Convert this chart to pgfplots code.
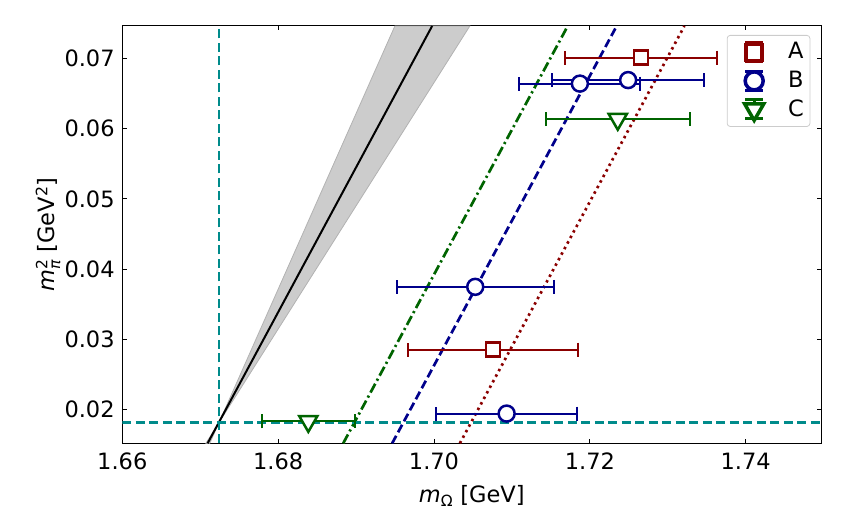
\documentclass[border=0pt]{standalone}
\usepackage{pgfplots}
\pgfplotsset{compat=1.18}
\usepackage{fontspec}
\setmainfont{DejaVu Sans}
\definecolor{dred}{RGB}{139,0,0}
\definecolor{dblue}{RGB}{0,0,139}
\definecolor{dgreen}{RGB}{0,100,0}
\definecolor{dcyan}{RGB}{0,139,139}
\newcommand{\bigf}{\fontsize{22.5}{27}\selectfont}
\newcommand{\smf}{\fontsize{15.5}{18}\selectfont}
\pgfplotsset{
  myleg/.style n args={3}{legend image code/.code={
    \path[draw=none, fill=none] (0pt,-12pt) rectangle (55pt,12pt);
    \draw[#1, solid, line width=3pt] (23pt,-9.5pt) -- (23pt,9.5pt) (14pt,-9.5pt) -- (32pt,-9.5pt) (14pt,9.5pt) -- (32pt,9.5pt);
    \draw[#1, solid, fill=white, line width=3.5pt, mark=#2, mark size=#3, only marks] plot coordinates {(23pt,0pt)};
  }},
}
\begin{document}
\bigf
\begin{tikzpicture}
\begin{axis}[
  scale only axis, width=699pt, height=417.3pt,
  xmin=1.66, xmax=1.7497, ymin=0.0152, ymax=0.0746,
  xtick={1.66,1.68,1.70,1.72,1.74},
  ytick={0.02,0.03,0.04,0.05,0.06,0.07},
  scaled ticks=false,
  /pgf/number format/fixed, /pgf/number format/fixed zerofill,
  /pgf/number format/precision=2, /pgf/number format/assume math mode=true,
  tick label style={font=\bigf, black},
  xticklabel style={yshift=-2pt},
  label style={font=\bigf},
  ylabel style={yshift=-11pt},
  tick align=inside, major tick length=4.5pt,
  tick style={black, line width=0.8pt},
  axis line style={line width=1pt},
  xlabel={$\mbox{\textit{m}}_{\mbox{\smf Ω}}$ [GeV]},
  ylabel={$\mbox{\textit{m}}^{\mbox{\smf 2}}_{\mbox{\smf\textit{π}}}$ [GeV\textsuperscript{2}]},
  legend style={at={(rel axis cs:1,1)}, anchor=north east, xshift=-11pt, yshift=-9pt,
    draw=black!20, rounded corners=3pt, line width=0.8pt, font=\bigf,
    inner xsep=4pt, inner ysep=5pt, row sep=4.5pt, cells={anchor=west}},
  legend cell align=left,
]
% band
\addplot[fill=black!20, draw=black!30, line width=0.8pt, forget plot] coordinates {
 (1.69498,0.0746) (1.67241,0.01815) (1.70460,0.0746)} -- cycle;
\addplot[fill=black!20, draw=black!30, line width=0.8pt, forget plot] coordinates {
 (1.67123,0.0152) (1.67241,0.01815) (1.67073,0.0152)} -- cycle;
\addplot[black, line width=2pt, forget plot] coordinates {(1.67095,0.0152) (1.69976,0.0746)};
% fits
\addplot[dgreen, line width=2.7pt, dash pattern=on 10pt off 3.5pt on 2.2pt off 3.5pt, forget plot] coordinates {(1.68835,0.0152) (1.71716,0.0746)};
\addplot[dblue, line width=2.7pt, dash pattern=on 8.5pt off 4pt, forget plot] coordinates {(1.69463,0.0152) (1.72344,0.0746)};
\addplot[dred, line width=2.7pt, dash pattern=on 2.5pt off 3.8pt, forget plot] coordinates {(1.70332,0.0152) (1.73213,0.0746)};
% cyan lines
\addplot[dcyan, line width=2.5pt, dash pattern=on 9pt off 4.5pt, forget plot] coordinates {(1.66,0.01815) (1.7497,0.01815)};
\addplot[dcyan, line width=2.5pt, dash pattern=on 9pt off 4.5pt, forget plot] coordinates {(1.67244,0.0152) (1.67244,0.0746)};
% data
\addplot[dred, only marks, mark=square*, mark size=7pt, mark options={fill=white, draw=dred, line width=2.5pt, solid}, forget plot,
  error bars/.cd, x dir=both, x explicit, error bar style={line width=2pt, dred, solid},
  error mark options={line width=2pt, mark size=7pt, dred, rotate=90}]
  coordinates {(1.72656,0.0701) +- (0.00977,0) (1.70755,0.02855) +- (0.01094,0)};
\addplot[dblue, only marks, mark=*, mark size=8pt, mark options={fill=white, draw=dblue, line width=2.5pt, solid}, forget plot,
  error bars/.cd, x dir=both, x explicit, error bar style={line width=2pt, dblue, solid},
  error mark options={line width=2pt, mark size=7pt, dblue, rotate=90}]
  coordinates {(1.71872,0.0664) +- (0.00776,0) (1.72491,0.0669) +- (0.00979,0)
   (1.70529,0.03747) +- (0.0101,0) (1.70932,0.01943) +- (0.00909,0)};
\addplot[dgreen, only marks, mark=triangle*, mark size=10.5pt, mark options={fill=white, draw=dgreen, line width=2.5pt, solid, rotate=180}, forget plot,
  error bars/.cd, x dir=both, x explicit, error bar style={line width=2pt, dgreen, solid},
  error mark options={line width=2pt, mark size=7pt, dgreen, rotate=90}]
  coordinates {(1.72358,0.06133) +- (0.00924,0) (1.68387,0.01833) +- (0.00599,0)};
\addlegendimage{myleg={dred}{square*}{8pt}}
\addlegendentry{A}
\addlegendimage{myleg={dblue}{*}{9pt}}
\addlegendentry{B}
\addlegendimage{myleg={dgreen, every mark/.append style={rotate=180}}{triangle*}{11pt}}
\addlegendentry{C}
\path (rel axis cs:0,0) ++(-122.3pt,-86.7pt) coordinate (bbsw);
\path (rel axis cs:1,1) ++(25.7pt,26pt) coordinate (bbne);
\end{axis}
\pgfresetboundingbox
\path[use as bounding box] (bbsw) rectangle (bbne);
\end{tikzpicture}
\end{document}
